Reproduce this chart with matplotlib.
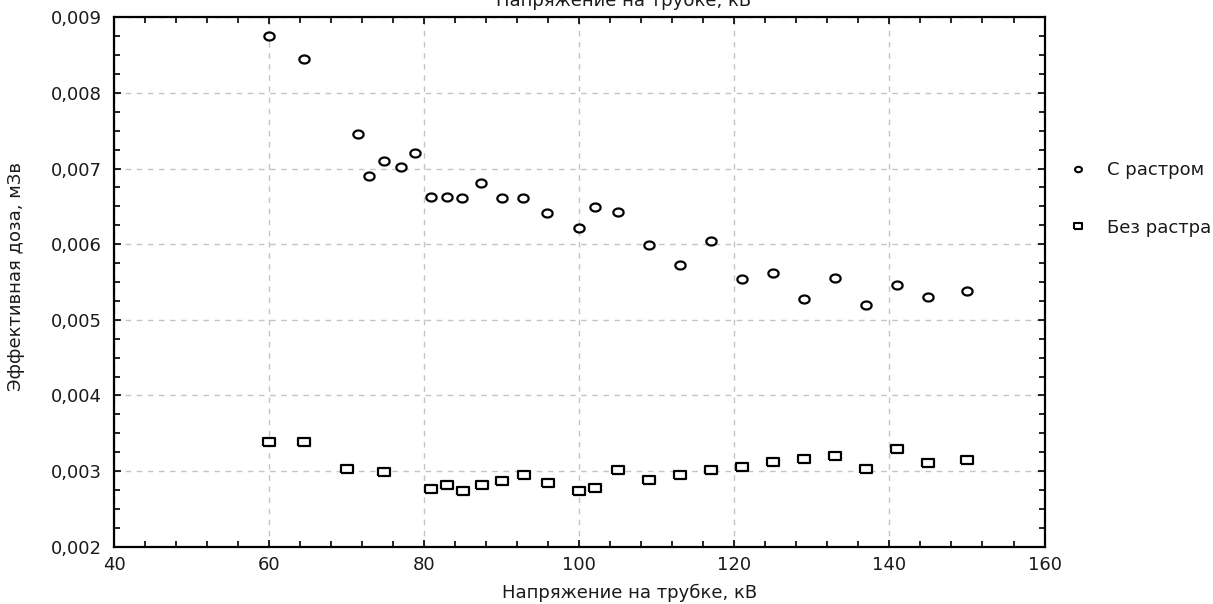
import numpy as np
import matplotlib
matplotlib.use("Agg")
import matplotlib.pyplot as plt
from matplotlib.ticker import MultipleLocator, FuncFormatter
from matplotlib.lines import Line2D

plt.rcParams['font.family'] = ['DejaVu Sans']

# С растром
x_grid = [60, 64.5, 71.5, 72.8, 74.8, 77, 78.8, 80.8, 82.9, 84.9, 87.3, 90, 92.7, 95.8,
          100, 102, 105, 109, 113, 117, 121, 125, 129, 133, 137, 141, 145, 150]
y_grid = [0.00875, 0.00845, 0.00746, 0.00690, 0.00710, 0.00702, 0.00721, 0.00662,
          0.00662, 0.00661, 0.00681, 0.00661, 0.00661, 0.00641, 0.00622, 0.00649,
          0.00643, 0.00599, 0.00572, 0.00604, 0.00554, 0.00562, 0.00527, 0.00555,
          0.00519, 0.00546, 0.00530, 0.00538]

# Без растра
x_nogrid = [60, 64.5, 70, 74.8, 80.8, 82.9, 85, 87.4, 90, 92.8, 95.9, 100, 102,
            105, 109, 113, 117, 121, 125, 129, 133, 137, 141, 145, 150]
y_nogrid = [0.00339, 0.00339, 0.00303, 0.00299, 0.00276, 0.00282, 0.00274, 0.00282,
            0.00287, 0.00295, 0.00284, 0.00274, 0.00278, 0.00301, 0.00288, 0.00295,
            0.00301, 0.00305, 0.00312, 0.00316, 0.00320, 0.00303, 0.00329, 0.00310,
            0.00314]

labels = ["С растром", "Без растра"]
xlabel = "Напряжение на трубке, кВ"
ylabel = "Эффективная доза, мЗв"

# slightly flattened marker shapes, as in the source picture
t = np.linspace(0, 2 * np.pi, 41)
ellipse = list(zip(np.cos(t), 0.78 * np.sin(t)))
rect = [(-1, -0.72), (1, -0.72), (1, 0.72), (-1, 0.72), (-1, -0.72)]

fig = plt.figure(figsize=(12.13, 6.04), dpi=100)
ax = fig.add_axes([0.0942, 0.0949, 0.7669, 0.8765])

ax.plot(x_grid, y_grid, ls='none', marker=ellipse, ms=7.4, mfc='white', mec='black', mew=1.6)
ax.plot(x_nogrid, y_nogrid, ls='none', marker=rect, ms=8.0, mfc='white', mec='black', mew=1.6)

ax.set_xlim(40, 160)
ax.set_ylim(0.002, 0.009)
ax.xaxis.set_major_locator(MultipleLocator(20))
ax.xaxis.set_minor_locator(MultipleLocator(4))
ax.yaxis.set_major_locator(MultipleLocator(0.001))
ax.yaxis.set_minor_locator(MultipleLocator(0.00025))
ax.yaxis.set_major_formatter(FuncFormatter(lambda v, p: ("%.3f" % v).replace('.', ',')))
ax.tick_params(which='both', direction='in', top=True, right=True, labelsize=13,
               width=1.2, color='black', labelcolor='#1a1a1a')
ax.tick_params(which='major', length=5)
ax.tick_params(which='minor', length=4)
ax.tick_params(axis='x', pad=7)
ax.tick_params(axis='y', pad=9)
for s in ax.spines.values():
    s.set_linewidth(1.6)
ax.grid(True, which='major', ls=(0, (4, 4)), color='#c4c4c4', lw=1)
ax.set_axisbelow(True)

ax.set_ylabel(ylabel, fontsize=13, color='#1a1a1a')
ax.yaxis.set_label_coords(-0.096, 0.51)
fig.text(630 / 1213, 1 - 598 / 604, xlabel, fontsize=13, ha='center', va='baseline', color='#1a1a1a')
fig.text(624 / 1213, 1 - 6 / 604, xlabel, fontsize=13, ha='center', va='baseline', color='#1a1a1a')

handles = [
    Line2D([], [], ls='none', marker=ellipse, ms=5, mfc='white', mec='black', mew=1.5),
    Line2D([], [], ls='none', marker=rect, ms=5.5, mfc='white', mec='black', mew=1.5),
]
ax.legend(handles, labels, loc='center left', bbox_to_anchor=(1.005, 0.657), frameon=False,
          fontsize=13, labelspacing=2.2, handlelength=1.4, handletextpad=0.9,
          labelcolor='#1a1a1a')

fig.savefig("out.png", dpi=100)
